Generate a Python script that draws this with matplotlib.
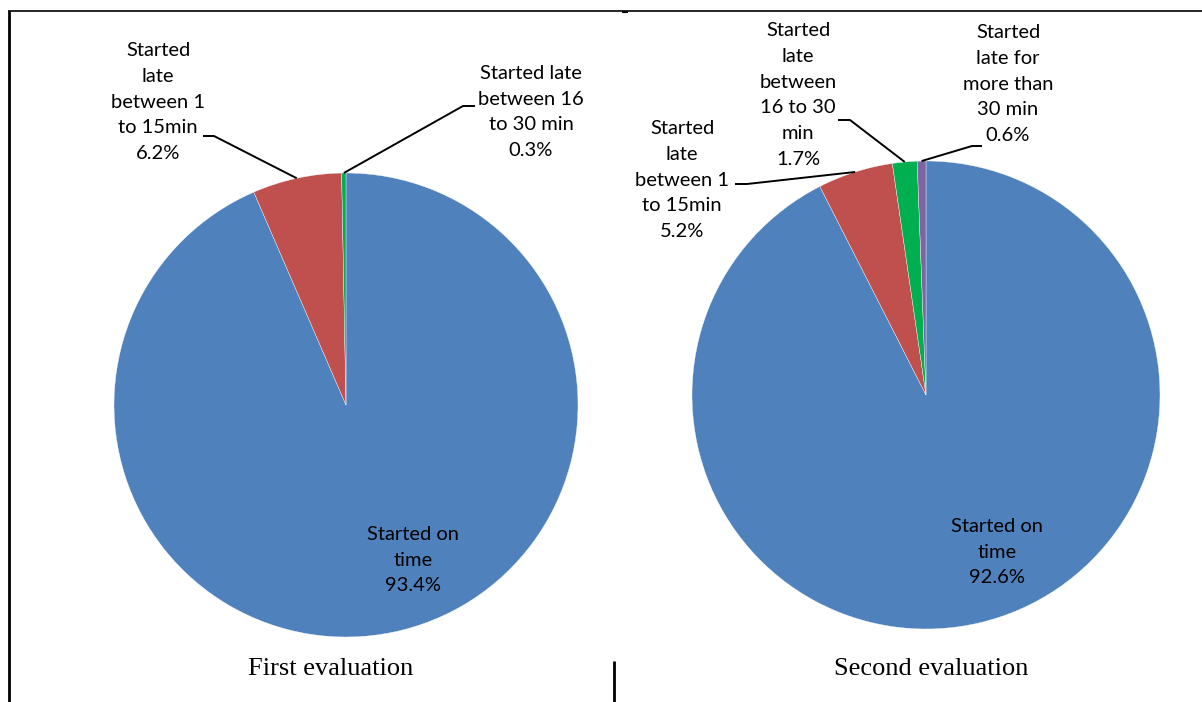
import numpy as np
import matplotlib.pyplot as plt
from matplotlib.lines import Line2D

first_names = ["Started on\ntime", "Started\nlate\nbetween 1\nto 15min",
               "Started late\nbetween 16\nto 30 min"]
first_share = [93.4, 6.2, 0.3]

second_names = ["Started on\ntime", "Started\nlate\nbetween 1\nto 15min",
                "Started\nlate\nbetween\n16 to 30\nmin",
                "Started\nlate for\nmore than\n30 min"]
second_share = [92.6, 5.2, 1.7, 0.6]

colors = ["#4F81BD", "#C0504D", "#00B050", "#8064A2"]

W, H = 1202, 702
fig = plt.figure(figsize=(W / 100, H / 100), dpi=100)
label_font = dict(family=["Lato", "DejaVu Sans"], fontsize=14.5, color="black")


def draw_pie(cx, cy, r, share, names, spots, title, title_x):
    ax = fig.add_axes([(cx - r) / W, 1 - (cy + r) / H, 2 * r / W, 2 * r / H])
    wedges, _ = ax.pie(share, colors=colors[:len(share)], startangle=90,
                       counterclock=False, radius=1,
                       wedgeprops=dict(linewidth=0.25, edgecolor="white"))
    ax.set_xlim(-1, 1)
    ax.set_ylim(-1, 1)
    ax.axis("off")

    def to_data(px, py):
        return (px - cx) / r, (cy - py) / r

    for w, name, v, spot in zip(wedges, names, share, spots):
        tx, ty = to_data(*spot["text"])
        ax.text(tx, ty, f"{name}\n{v}%", ha="center", va="center",
                linespacing=1.63, clip_on=False, **label_font)
        if "lead" in spot:
            mid = np.deg2rad((w.theta1 + w.theta2) / 2)
            ex, ey = np.cos(mid), np.sin(mid)
            (ax0, ay0), (ax1, ay1) = [to_data(*p) for p in spot["lead"]]
            ax.plot([ex, ax1, ax0], [ey, ay1, ay0], color="black", lw=1.4,
                    clip_on=False, solid_capstyle="butt")

    fig.text(title_x / W, 1 - 669 / H, title, ha="center", va="center",
             family="Liberation Serif", fontsize=19)


draw_pie(346, 405, 232, first_share, first_names,
         [dict(text=(413, 560)),
          dict(text=(158, 102), lead=[(203, 136), (214, 136)]),
          dict(text=(531, 112), lead=[(475, 106), (463, 106)])],
         "First evaluation", 331)

draw_pie(926, 395, 234, second_share, second_names,
         [dict(text=(997, 552)),
          dict(text=(682, 180), lead=[(735, 184), (747, 184)]),
          dict(text=(798, 95), lead=[(838, 120), (850, 120)]),
          dict(text=(1008, 84), lead=[(982, 146), (972, 146)])],
         "Second evaluation", 931)

# table borders around the two panels
def rule(x0, y0, x1, y1, lw):
    fig.add_artist(Line2D([x0 / W, x1 / W], [1 - y0 / H, 1 - y1 / H],
                          color="black", lw=lw, solid_capstyle="butt"))

rule(8, 11, W, 11, 1.2)
rule(9, 11, 9, H, 2)
rule(614, 661, 614, H, 2)
rule(622, 12, 628, 12, 1.5)

fig.savefig("out.png", dpi=100, facecolor="white")
